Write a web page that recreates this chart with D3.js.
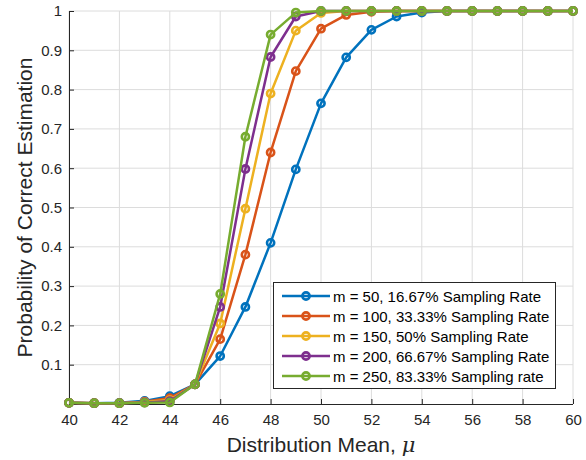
<!DOCTYPE html>
<html><head><meta charset="utf-8">
<script src="https://cdn.jsdelivr.net/npm/d3@7"></script>
<style>body{margin:0;background:#fff}svg{display:block}</style>
</head><body>
<script>
const xValues = [40,41,42,43,44,45,46,47,48,49,50,51,52,53,54,55,56,57,58,59,60];
const m50  = [0.003,0.002,0.003,0.008,0.02,0.05,0.122,0.247,0.41,0.597,0.765,0.882,0.952,0.986,0.996,1,1,1,1,1,1];
const m100 = [0.003,0.002,0.002,0.006,0.015,0.05,0.165,0.38,0.64,0.847,0.955,0.99,0.998,1,1,1,1,1,1,1,1];
const m150 = [0.003,0.002,0.002,0.005,0.01,0.05,0.205,0.497,0.79,0.95,0.995,1,1,1,1,1,1,1,1,1,1];
const m200 = [0.003,0.002,0.002,0.004,0.007,0.05,0.247,0.598,0.883,0.986,1,1,1,1,1,1,1,1,1,1,1];
const m250 = [0.003,0.002,0.002,0.003,0.004,0.05,0.28,0.68,0.94,0.996,1,1,1,1,1,1,1,1,1,1,1];
const seriesNames = ["m = 50, 16.67% Sampling Rate","m = 100, 33.33% Sampling Rate","m = 150, 50% Sampling Rate","m = 200, 66.67% Sampling Rate","m = 250, 83.33% Sampling rate"];
const seriesColors = ["#0072BD","#D95319","#EDB120","#7E2F8E","#77AC30"];
const xTicks = [40,42,44,46,48,50,52,54,56,58,60];
const yTicks = [0.1,0.2,0.3,0.4,0.5,0.6,0.7,0.8,0.9,1];

const series = [m50,m100,m150,m200,m250];
const W=586,H=460;
const svg=d3.select("body").append("svg").attr("width",W).attr("height",H);
const x=d3.scaleLinear().domain([40,60]).range([69,573]);
const y=d3.scaleLinear().domain([0,1]).range([404,11]);
const font="Arial, 'Liberation Sans', sans-serif";

// grid
const g=svg.append("g");
g.selectAll(".gx").data(xTicks).join("line").attr("x1",d=>x(d)).attr("x2",d=>x(d)).attr("y1",y(0)).attr("y2",y(1)).attr("stroke","#dcdcdc").attr("stroke-width",1);
g.selectAll(".gy").data(yTicks).join("line").attr("x1",x(40)).attr("x2",x(60)).attr("y1",d=>y(d)).attr("y2",d=>y(d)).attr("stroke","#dcdcdc").attr("stroke-width",1);

// axes
const xAxis=d3.axisBottom(x).tickValues(xTicks).tickSize(-5).tickPadding(10).tickFormat(d3.format("d"));
const yAxis=d3.axisLeft(y).tickValues(yTicks).tickSize(-5).tickPadding(7).tickFormat(d=>d===1?"1":d3.format(".1f")(d));
const ax=svg.append("g").attr("transform",`translate(0,${y(0)})`).call(xAxis);
const ay=svg.append("g").attr("transform",`translate(${x(40)},0)`).call(yAxis);
[ax,ay].forEach(a=>{
  a.select(".domain").attr("stroke","#262626").attr("stroke-width",1);
  a.selectAll(".tick line").attr("stroke","#262626");
  a.selectAll("text").attr("fill","#262626").style("font-family",font).style("font-size","15px");
});
ay.select(".domain").attr("d",`M0.5,${y(0)}V${y(1)}`);
ax.select(".domain").attr("d",`M${x(40)},0.5H${x(60)}`);

// lines
const line=d3.line().x((d,i)=>x(xValues[i])).y(d=>y(d));
series.forEach((s,k)=>{
  const sg=svg.append("g");
  sg.append("path").datum(s).attr("d",line).attr("fill","none").attr("stroke",seriesColors[k]).attr("stroke-width",2.5).attr("stroke-linejoin","round");
  sg.selectAll("circle").data(s).join("circle").attr("cx",(d,i)=>x(xValues[i])).attr("cy",d=>y(d)).attr("r",3.6)
    .attr("fill","none").attr("stroke",seriesColors[k]).attr("stroke-width",2.6);
});

// labels
svg.append("text").attr("x",x(50)).attr("y",452).attr("text-anchor","middle").style("font-family",font).style("font-size","21px").attr("fill","#262626")
  .text("Distribution Mean, ").append("tspan").style("font-family","'DejaVu Serif', 'Liberation Serif', serif").style("font-style","italic").text("μ");
svg.append("text").attr("transform",`translate(32,${y(0.5)}) rotate(-90)`).attr("text-anchor","middle").style("font-family",font).style("font-size","21px").attr("fill","#262626")
  .text("Probability of Correct Estimation");

// legend
const lg=svg.append("g");
lg.append("rect").attr("x",273.5).attr("y",282.5).attr("width",282).attr("height",106).attr("fill","#fff").attr("stroke","#262626").attr("stroke-width",1);
seriesNames.forEach((n,k)=>{
  const yy=296+k*20;
  lg.append("line").attr("x1",282).attr("x2",330).attr("y1",yy).attr("y2",yy).attr("stroke",seriesColors[k]).attr("stroke-width",2.5);
  lg.append("circle").attr("cx",306).attr("cy",yy).attr("r",3.6).attr("fill","none").attr("stroke",seriesColors[k]).attr("stroke-width",2.6);
  lg.append("text").attr("x",333).attr("y",yy+5.5).style("font-family",font).style("font-size","15px").attr("fill","#000").text(n);
});
</script>
</body></html>
